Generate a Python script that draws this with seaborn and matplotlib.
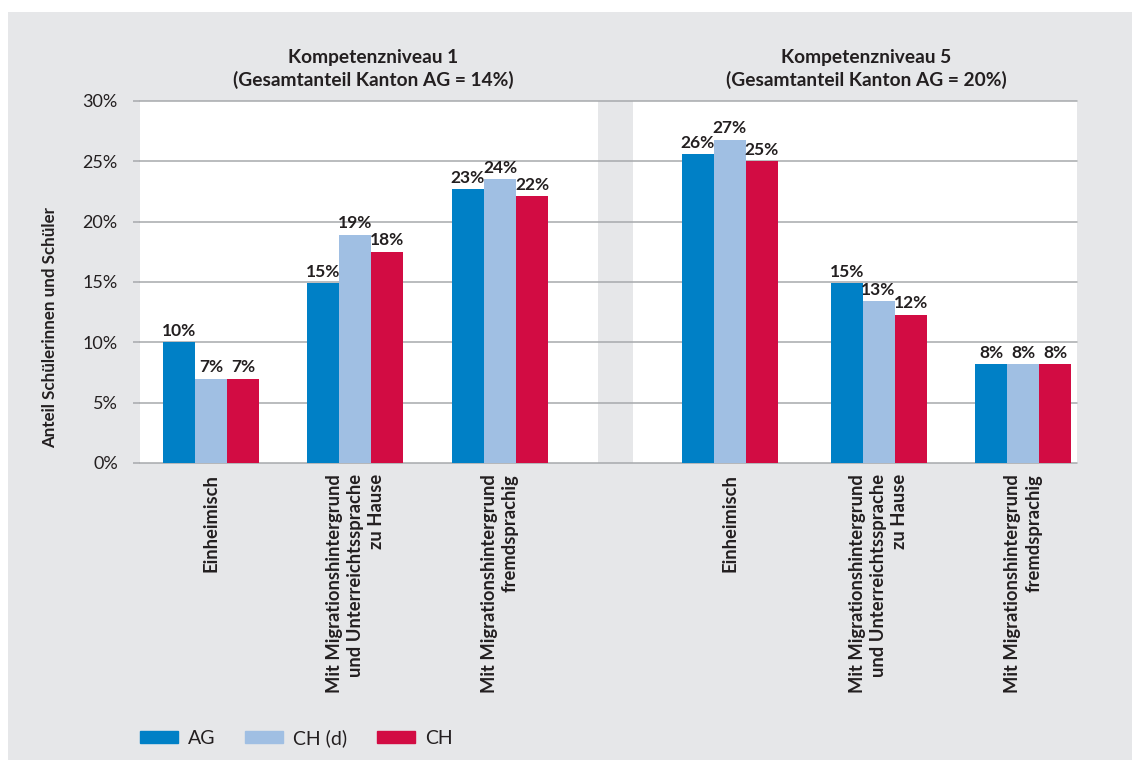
import matplotlib
matplotlib.use("Agg")
import matplotlib.pyplot as plt
import matplotlib.patches as mpatches
import pandas as pd
import seaborn as sns

# Daten
gruppen = ["Einheimisch",
           "Mit Migrationshintergrund\nund Unterreichtssprache\nzu Hause",
           "Mit Migrationshintergrund\nfremdsprachig"] * 2
positionen = [0, 1, 2, 3.59, 4.62, 5.62]
ag = [10.0, 14.9, 22.7, 25.6, 14.9, 8.2]
ch_d = [7.0, 18.9, 23.5, 26.8, 13.4, 8.2]
ch = [7.0, 17.5, 22.1, 25.0, 12.3, 8.2]
labels_ag = ["10%", "15%", "23%", "26%", "15%", "8%"]
labels_ch_d = ["7%", "19%", "24%", "27%", "13%", "8%"]
labels_ch = ["7%", "18%", "22%", "25%", "12%", "8%"]
serien = ["AG", "CH (d)", "CH"]
farben = ["#0080c6", "#a0bfe3", "#d20c43"]
titel = ["Kompetenzniveau 1\n(Gesamtanteil Kanton AG = 14%)",
         "Kompetenzniveau 5\n(Gesamtanteil Kanton AG = 20%)"]
yticks = [0, 5, 10, 15, 20, 25, 30]

bg = "#e6e7e9"
grid_col = "#a7a9ac"
txt = "#231f20"

df = pd.DataFrame({
    "pos": positionen * 3,
    "wert": ag + ch_d + ch,
    "serie": [s for s in serien for _ in positionen],
})

sns.set_style("white")
plt.rcParams["font.family"] = ["Lato", "DejaVu Sans"]

W, H = 1132, 760
fig = plt.figure(figsize=(W / 100, H / 100), dpi=100)
fig.patch.set_facecolor("white")
fig.patches.append(mpatches.Rectangle((8 / W, 0), 1, 1 - 12 / H, transform=fig.transFigure,
                                      facecolor=bg, edgecolor="none", zorder=-10))

ax = fig.add_axes([140 / W, 1 - 463 / H, (1077 - 140) / W, (463 - 101) / H])
ax.set_facecolor("white")

sns.barplot(data=df, x="pos", y="wert", hue="serie", palette=farben, native_scale=True,
            width=0.664, linewidth=0, saturation=1, legend=False, ax=ax, zorder=2)

ax.set_xlim(-0.491, 5.993)
ax.set_ylim(0, 30)

# grauer Zwischenraum zwischen den Teilen
ax.axvspan(2.678, 2.920, color=bg, zorder=0.3, lw=0)
for y in yticks:
    ax.axhline(y, color=grid_col, lw=1.1, zorder=1, clip_on=False)

for cont, labs in zip(ax.containers, [labels_ag, labels_ch_d, labels_ch]):
    ax.bar_label(cont, labels=labs, padding=2.5, fontsize=12.5, fontweight="bold", color=txt)

ax.set_yticks(yticks)
ax.set_yticklabels([f"{v}%" for v in yticks], fontsize=13, color=txt)
ax.tick_params(axis="y", length=5, width=1.1, color=grid_col, pad=11, left=True)
ax.set_xticks(positionen)
ax.set_xticklabels(gruppen, rotation=90, fontsize=13.2, fontweight="bold", color=txt,
                   va="top", ha="center")
ax.tick_params(axis="x", length=0, pad=8)
for lab in ax.get_xticklabels():
    lab.set_multialignment("right")
    lab.set_linespacing(1.3)
ax.set_xlabel("")
ax.set_ylabel("")
sns.despine(ax=ax, left=True, bottom=True)

fig.text(50 / W, 1 - 327 / H, "Anteil Schülerinnen und Schüler", rotation=90,
         ha="center", va="center", fontsize=12.2, fontweight="bold", color=txt)
for x, t in zip([373, 866], titel):
    fig.text(x / W, 1 - 69 / H, t, ha="center", va="center", fontsize=13.8,
             fontweight="bold", color=txt, linespacing=1.3)

handles = [mpatches.Patch(color=c, label=s) for c, s in zip(farben, serien)]
leg = fig.legend(handles=handles, loc="center left", bbox_to_anchor=(140 / W, 1 - 738 / H),
                 ncol=3, frameon=False, fontsize=14, handlelength=1.95, handleheight=0.6,
                 handletextpad=0.5, columnspacing=1.55, borderpad=0, borderaxespad=0)
for t in leg.get_texts():
    t.set_color(txt)

fig.savefig("out.png", dpi=100, facecolor=fig.get_facecolor())
